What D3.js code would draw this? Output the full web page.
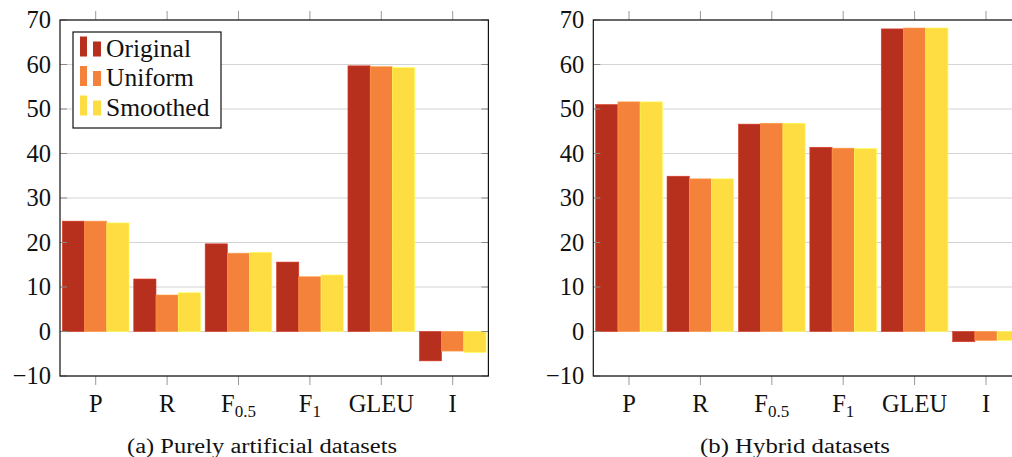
<!DOCTYPE html>
<html>
<head>
<meta charset="utf-8">
<script src="https://cdn.jsdelivr.net/npm/d3@7"></script>
<style>
  body { margin: 0; background: #fff; }
</style>
</head>
<body>
<div id="chart"></div>
<script>
// metrics on the x axis (sub = subscript part)
var metrics = [
  {key: "P", main: "P", sub: ""},
  {key: "R", main: "R", sub: ""},
  {key: "F05", main: "F", sub: "0.5"},
  {key: "F1", main: "F", sub: "1"},
  {key: "GLEU", main: "GLEU", sub: ""},
  {key: "I", main: "I", sub: ""}
];
var series = ["Original", "Uniform", "Smoothed"];
var colors = ["#b7301e", "#f4823a", "#fedd42"];
var yTicks = [-10, 0, 10, 20, 30, 40, 50, 60, 70];

// (a) purely artificial datasets
var artOriginal = [24.8, 11.8, 19.7, 15.6, 59.7, -6.6];
var artUniform  = [24.8, 8.2, 17.6, 12.3, 59.5, -4.4];
var artSmoothed = [24.4, 8.7, 17.8, 12.7, 59.3, -4.7];

// (b) hybrid datasets
var hybOriginal = [51.0, 34.9, 46.6, 41.4, 68.0, -2.3];
var hybUniform  = [51.6, 34.3, 46.8, 41.2, 68.2, -2.0];
var hybSmoothed = [51.6, 34.3, 46.8, 41.1, 68.2, -2.0];

var panels = [
  {x0: 60, caption: "(a) Purely artificial datasets", capX: 262, capW: 270, legend: true,
   values: [artOriginal, artUniform, artSmoothed]},
  {x0: 593.3, caption: "(b) Hybrid datasets", capX: 795, capW: 190, legend: false,
   values: [hybOriginal, hybUniform, hybSmoothed]}
];

var W = 1012, H = 457;
var plotW = 428.4, plotTop = 20, plotBottom = 376;
var fontSize = 24.5;
var serif = "'Liberation Serif', 'Times New Roman', serif";

var svg = d3.select("#chart").append("svg")
  .attr("width", W).attr("height", H)
  .style("display", "block")
  .attr("font-family", serif);

var y = d3.scaleLinear().domain([-10, 70]).range([plotBottom, plotTop]);

panels.forEach(function(p) {
  var g = svg.append("g").attr("transform", "translate(" + p.x0 + ",0)");

  var x = d3.scaleBand()
    .domain(metrics.map(d => d.key))
    .range([0, plotW])
    .paddingInner(0.066)
    .paddingOuter(0.033);
  var xs = d3.scaleBand().domain(series).range([0, x.bandwidth()]);

  // grid lines
  g.selectAll(".grid").data(yTicks).enter().append("line")
    .attr("x1", 0).attr("x2", plotW)
    .attr("y1", d => y(d)).attr("y2", d => y(d))
    .attr("stroke", "#d4d4d4").attr("stroke-width", 1);

  // bars
  series.forEach(function(s, si) {
    g.selectAll(".bar" + si).data(p.values[si]).enter().append("rect")
      .attr("x", (d, i) => x(metrics[i].key) + xs(s))
      .attr("y", d => y(Math.max(0, d)))
      .attr("width", xs.bandwidth())
      .attr("height", d => Math.abs(y(d) - y(0)))
      .attr("fill", colors[si])
      .attr("stroke", d3.color(colors[si]).brighter(0.5))
      .attr("stroke-width", 0.6);
  });

  // y ticks inside on both sides
  g.selectAll(".ytl").data(yTicks).enter().append("line")
    .attr("x1", 0).attr("x2", 7)
    .attr("y1", d => y(d)).attr("y2", d => y(d))
    .attr("stroke", "#8a8a8a");
  g.selectAll(".ytr").data(yTicks).enter().append("line")
    .attr("x1", plotW - 7).attr("x2", plotW)
    .attr("y1", d => y(d)).attr("y2", d => y(d))
    .attr("stroke", "#8a8a8a");

  // x ticks outside top and bottom
  metrics.forEach(function(m) {
    var cx = x(m.key) + x.bandwidth() / 2;
    g.append("line").attr("x1", cx).attr("x2", cx)
      .attr("y1", plotBottom).attr("y2", plotBottom + 9).attr("stroke", "#9a9a9a");
    g.append("line").attr("x1", cx).attr("x2", cx)
      .attr("y1", plotTop - 9).attr("y2", plotTop).attr("stroke", "#9a9a9a");
  });

  // frame
  g.append("rect")
    .attr("x", 0).attr("y", plotTop)
    .attr("width", plotW).attr("height", plotBottom - plotTop)
    .attr("fill", "none").attr("stroke", "#111").attr("stroke-width", 1.2);

  // y tick labels
  g.selectAll(".ylab").data(yTicks).enter().append("text")
    .attr("x", -9).attr("y", d => y(d))
    .attr("dy", "0.34em")
    .attr("text-anchor", "end")
    .attr("font-size", fontSize)
    .attr("fill", "#111")
    .text(d => d < 0 ? "\u2212" + Math.abs(d) : d);

  // x tick labels with subscripts
  metrics.forEach(function(m) {
    var cx = x(m.key) + x.bandwidth() / 2;
    var t = g.append("text")
      .attr("x", cx).attr("y", 412)
      .attr("text-anchor", "middle")
      .attr("font-size", fontSize)
      .attr("fill", "#111");
    t.append("tspan").text(m.main);
    if (m.sub) {
      t.append("tspan").attr("font-size", 17).attr("dy", 5).text(m.sub);
    }
  });

  // caption
  svg.append("text")
    .attr("x", p.capX).attr("y", 453)
    .attr("text-anchor", "middle")
    .attr("font-size", 20)
    .attr("textLength", p.capW)
    .attr("lengthAdjust", "spacingAndGlyphs")
    .attr("fill", "#111")
    .text(p.caption);

  // legend
  if (p.legend) {
    var lg = svg.append("g");
    lg.append("rect")
      .attr("x", 73).attr("y", 32).attr("width", 148).attr("height", 96)
      .attr("fill", "#fff").attr("stroke", "#111").attr("stroke-width", 1.2);
    series.forEach(function(s, si) {
      var base = 56.5 + si * 29.5;
      lg.append("rect").attr("x", 80).attr("y", base - 20)
        .attr("width", 7).attr("height", 20).attr("fill", colors[si]);
      lg.append("rect").attr("x", 93).attr("y", base - 15)
        .attr("width", 8).attr("height", 15).attr("fill", colors[si]);
      lg.append("text").attr("x", 106).attr("y", base)
        .attr("font-size", 25.5).attr("fill", "#111").text(s);
    });
  }
});
</script>
</body>
</html>
